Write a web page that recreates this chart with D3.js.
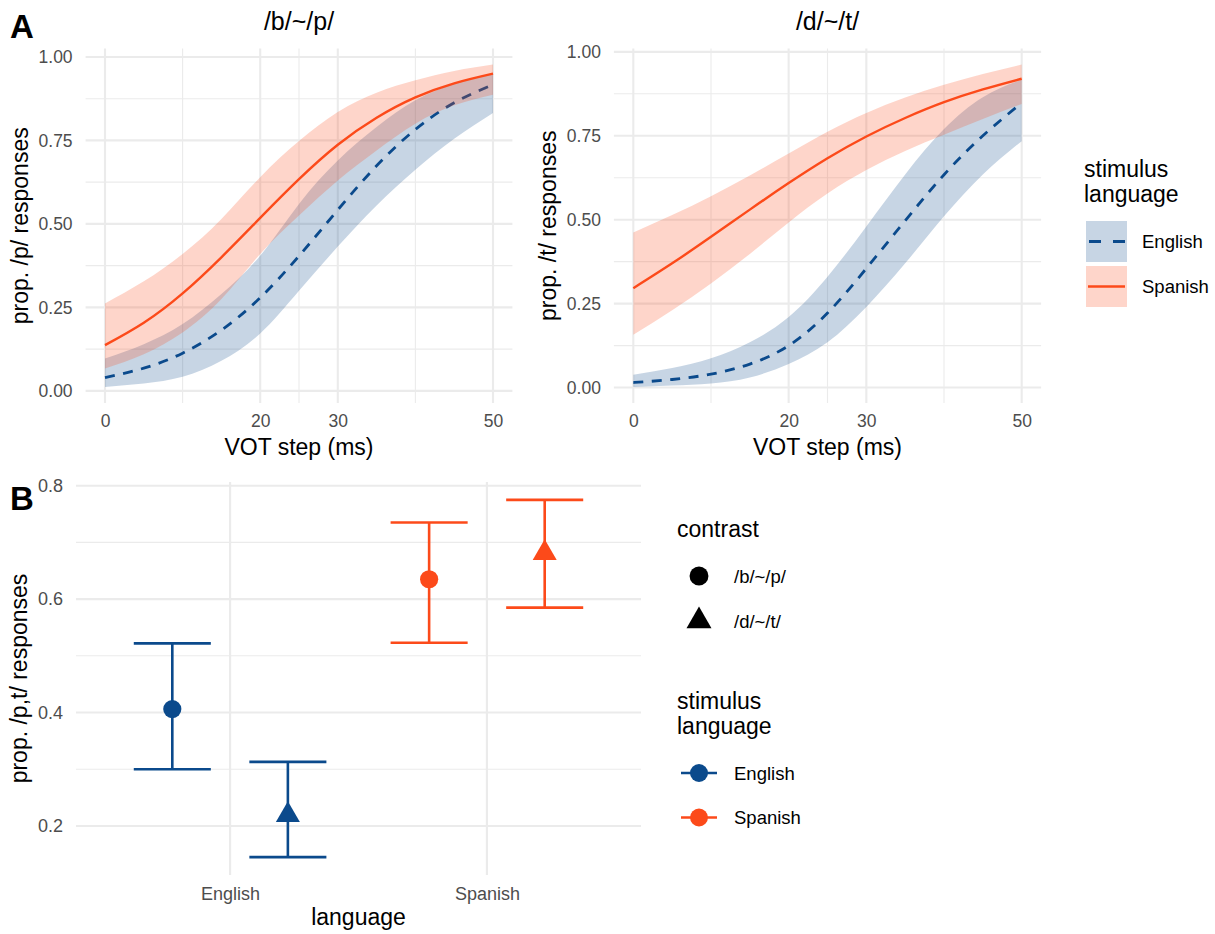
<!DOCTYPE html>
<html lang="en">
<head>
<meta charset="UTF-8">
<title>VOT categorisation by stimulus language</title>
<script src="https://d3js.org/d3.v7.min.js"></script>
<style>
  body { margin: 0; background: #fff; }
  svg text { font-family: "Liberation Sans", Arial, Helvetica, sans-serif; }
</style>
</head>
<body>
<div id="chart"></div>
<script>
// ---- data ----
const votSteps = [0, 5, 10, 15, 20, 25, 30, 35, 40, 45, 50];
const xBreaks = [0, 20, 30, 50];
const yBreaks = [0, 0.25, 0.5, 0.75, 1];

// /b/~/p/
const bpEnglishFit = [0.040, 0.068, 0.113, 0.182, 0.279, 0.404, 0.542, 0.674, 0.783, 0.863, 0.917];
const bpEnglishLo  = [0.012, 0.022, 0.042, 0.090, 0.172, 0.300, 0.432, 0.555, 0.662, 0.755, 0.832];
const bpEnglishHi  = [0.097, 0.140, 0.200, 0.290, 0.405, 0.560, 0.690, 0.790, 0.870, 0.920, 0.950];
const bpSpanishFit = [0.137, 0.204, 0.292, 0.400, 0.518, 0.634, 0.737, 0.818, 0.879, 0.921, 0.950];
const bpSpanishLo  = [0.067, 0.110, 0.175, 0.275, 0.410, 0.525, 0.630, 0.720, 0.800, 0.855, 0.887];
const bpSpanishHi  = [0.262, 0.328, 0.410, 0.515, 0.640, 0.748, 0.835, 0.893, 0.930, 0.958, 0.977];

// /d/~/t/
const dtEnglishFit = [0.015, 0.024, 0.040, 0.070, 0.125, 0.222, 0.355, 0.497, 0.634, 0.750, 0.848];
const dtEnglishLo  = [0.002, 0.006, 0.012, 0.030, 0.070, 0.135, 0.240, 0.370, 0.510, 0.635, 0.734];
const dtEnglishHi  = [0.038, 0.058, 0.087, 0.135, 0.210, 0.330, 0.480, 0.635, 0.770, 0.865, 0.917];
const dtSpanishFit = [0.296, 0.370, 0.449, 0.530, 0.609, 0.683, 0.748, 0.803, 0.850, 0.888, 0.920];
const dtSpanishLo  = [0.157, 0.230, 0.310, 0.398, 0.492, 0.578, 0.648, 0.705, 0.753, 0.800, 0.845];
const dtSpanishHi  = [0.462, 0.514, 0.570, 0.632, 0.697, 0.762, 0.818, 0.864, 0.902, 0.934, 0.962];

// panel B: estimates by stimulus language x contrast
const languages = ["English", "Spanish"];
const contrasts = ["/b/~/p/", "/d/~/t/"];
const estMean  = { English: [0.406, 0.219], Spanish: [0.635, 0.681] };
const estLower = { English: [0.300, 0.145], Spanish: [0.523, 0.585] };
const estUpper = { English: [0.522, 0.313], Spanish: [0.735, 0.775] };
const bBreaks = [0.2, 0.4, 0.6, 0.8];

// ---- setup ----
const W = 1215, H = 934;
const svg = d3.select("#chart").append("svg").attr("width", W).attr("height", H);

const color = d3.scaleOrdinal().domain(languages).range(["#0b4a8c", "#fc4a1a"]);
const ribbonAlpha = 0.23;
const gridCol = "#ebebeb";
const tickCol = "#4d4d4d";

// ggplot-like 5% expansion
function expand(vals) {
  const [lo, hi] = d3.extent(vals);
  const pad = (hi - lo) * 0.05;
  return [lo - pad, hi + pad];
}
function minorOf(breaks) {
  const m = [];
  for (let i = 1; i < breaks.length; i++) m.push((breaks[i - 1] + breaks[i]) / 2);
  return m;
}

function curvePanel(p) {
  const g = svg.append("g");
  const top = 48.5, bottom = 403;
  const x = d3.scaleLinear().domain(expand(votSteps)).range([p.left, p.right]);
  const y = d3.scaleLinear()
    .domain(expand([...p.enLo, ...p.enHi, ...p.esLo, ...p.esHi]))
    .range([bottom, top]);

  // grid
  g.selectAll(".ymin").data(minorOf(yBreaks)).join("line")
    .attr("x1", p.left).attr("x2", p.right).attr("y1", d => y(d)).attr("y2", d => y(d))
    .attr("stroke", gridCol).attr("stroke-width", 1.1);
  g.selectAll(".xmin").data(minorOf(xBreaks)).join("line")
    .attr("x1", d => x(d)).attr("x2", d => x(d)).attr("y1", top).attr("y2", bottom)
    .attr("stroke", gridCol).attr("stroke-width", 1.1);
  g.selectAll(".ymaj").data(yBreaks).join("line")
    .attr("x1", p.left).attr("x2", p.right).attr("y1", d => y(d)).attr("y2", d => y(d))
    .attr("stroke", gridCol).attr("stroke-width", 2.1);
  g.selectAll(".xmaj").data(xBreaks).join("line")
    .attr("x1", d => x(d)).attr("x2", d => x(d)).attr("y1", top).attr("y2", bottom)
    .attr("stroke", gridCol).attr("stroke-width", 2.1);

  const series = [
    { lang: "English", fit: p.enFit, lo: p.enLo, hi: p.enHi, dash: "10,8.5", w: 2.8 },
    { lang: "Spanish", fit: p.esFit, lo: p.esLo, hi: p.esHi, dash: null, w: 2.4 }
  ];
  const area = d3.area().curve(d3.curveNatural)
    .x((d, i) => x(votSteps[i]));
  const line = d3.line().curve(d3.curveNatural)
    .x((d, i) => x(votSteps[i])).y(d => y(d));

  series.forEach(s => {
    g.append("path")
      .attr("d", area.y0((d, i) => y(s.lo[i])).y1((d, i) => y(s.hi[i]))(s.fit))
      .attr("fill", color(s.lang)).attr("fill-opacity", ribbonAlpha);
    g.append("path")
      .attr("d", line(s.fit))
      .attr("fill", "none").attr("stroke", color(s.lang))
      .attr("stroke-width", s.w)
      .attr("stroke-dasharray", s.dash);
  });

  // axes
  const ax = g.append("g").attr("transform", `translate(0,${bottom})`)
    .call(d3.axisBottom(x).tickValues(xBreaks).tickSize(0).tickPadding(12));
  const ay = g.append("g").attr("transform", `translate(${p.left},0)`)
    .call(d3.axisLeft(y).tickValues(yBreaks).tickFormat(d3.format(".2f")).tickSize(0).tickPadding(13));
  [ax, ay].forEach(a => {
    a.select(".domain").remove();
    a.selectAll("text").attr("font-size", 17.5).attr("fill", tickCol)
      .style("font-family", '"Liberation Sans", Arial, sans-serif');
  });

  g.append("text").attr("x", (p.left + p.right) / 2).attr("y", 30)
    .attr("text-anchor", "middle").attr("font-size", 25).text(p.title);
  g.append("text").attr("x", (p.left + p.right) / 2).attr("y", 455)
    .attr("text-anchor", "middle").attr("font-size", 23).text("VOT step (ms)");
  g.append("text")
    .attr("transform", `translate(${p.ytx},${(top + bottom) / 2}) rotate(-90)`)
    .attr("text-anchor", "middle").attr("font-size", 23).text(p.ytitle);
}

curvePanel({
  left: 85.6, right: 512.4, ytx: 28, title: "/b/~/p/", ytitle: "prop. /p/ responses",
  enFit: bpEnglishFit, enLo: bpEnglishLo, enHi: bpEnglishHi,
  esFit: bpSpanishFit, esLo: bpSpanishLo, esHi: bpSpanishHi
});
curvePanel({
  left: 613.9, right: 1041.1, ytx: 556, title: "/d/~/t/", ytitle: "prop. /t/ responses",
  enFit: dtEnglishFit, enLo: dtEnglishLo, enHi: dtEnglishHi,
  esFit: dtSpanishFit, esLo: dtSpanishLo, esHi: dtSpanishHi
});

// legend for panel A
const legA = svg.append("g").attr("transform", "translate(1084,0)");
legA.append("text").attr("x", 0).attr("y", 177).attr("font-size", 23).text("stimulus");
legA.append("text").attr("x", 0).attr("y", 201.5).attr("font-size", 23).text("language");
languages.forEach((lang, i) => {
  const ky = 221 + i * 45;
  legA.append("rect").attr("x", 2).attr("y", ky).attr("width", 41).attr("height", 41)
    .attr("fill", color(lang)).attr("fill-opacity", ribbonAlpha);
  legA.append("line").attr("x1", 4).attr("x2", 41).attr("y1", ky + 20.5).attr("y2", ky + 20.5)
    .attr("stroke", color(lang)).attr("stroke-width", lang === "English" ? 2.8 : 2.4)
    .attr("stroke-dasharray", lang === "English" ? "12,12" : null)
    .attr("stroke-dashoffset", lang === "English" ? -1 : 0);
  legA.append("text").attr("x", 58).attr("y", ky + 27).attr("font-size", 18.5).text(lang);
});

// ---- panel B ----
const bTop = 482, bBottom = 875, bLeft = 76, bRight = 641;
const gb = svg.append("g");
const xb = d3.scalePoint().domain(languages).range([bLeft, bRight]).padding(0.6);
const yb = d3.scaleLinear()
  .domain(expand([...estLower.English, ...estLower.Spanish, ...estUpper.English, ...estUpper.Spanish]))
  .range([bBottom, bTop]);
const dodge = d3.scalePoint().domain(contrasts).range([-0.225, 0.225]);
const shape = d3.scaleOrdinal().domain(contrasts).range([d3.symbolCircle, d3.symbolTriangle]);
const shapeSize = d3.scaleOrdinal().domain(contrasts).range([260, 250]);

gb.selectAll(".ymin").data(minorOf(bBreaks)).join("line")
  .attr("x1", bLeft).attr("x2", bRight).attr("y1", d => yb(d)).attr("y2", d => yb(d))
  .attr("stroke", gridCol).attr("stroke-width", 1.1);
gb.selectAll(".ymaj").data(bBreaks).join("line")
  .attr("x1", bLeft).attr("x2", bRight).attr("y1", d => yb(d)).attr("y2", d => yb(d))
  .attr("stroke", gridCol).attr("stroke-width", 2.1);
gb.selectAll(".xmaj").data(languages).join("line")
  .attr("x1", d => xb(d)).attr("x2", d => xb(d)).attr("y1", bTop).attr("y2", bBottom)
  .attr("stroke", gridCol).attr("stroke-width", 2.1);

const est = [];
languages.forEach(lang => contrasts.forEach((c, j) => {
  est.push({ lang, c, m: estMean[lang][j], lo: estLower[lang][j], hi: estUpper[lang][j] });
}));
const step = xb.step();
const capHalf = 0.15 * step;
est.forEach(d => {
  const cx = xb(d.lang) + dodge(d.c) * step;
  const col = color(d.lang);
  gb.append("line").attr("x1", cx).attr("x2", cx).attr("y1", yb(d.lo)).attr("y2", yb(d.hi))
    .attr("stroke", col).attr("stroke-width", 2.6);
  [d.lo, d.hi].forEach(v => {
    gb.append("line").attr("x1", cx - capHalf).attr("x2", cx + capHalf)
      .attr("y1", yb(v)).attr("y2", yb(v)).attr("stroke", col).attr("stroke-width", 2.6);
  });
  gb.append("path").attr("transform", `translate(${cx},${yb(d.m)})`)
    .attr("d", d3.symbol().type(shape(d.c)).size(shapeSize(d.c))())
    .attr("fill", col);
});

const bx = gb.append("g").attr("transform", `translate(0,${bBottom})`)
  .call(d3.axisBottom(xb).tickSize(0).tickPadding(12));
const by = gb.append("g").attr("transform", `translate(${bLeft},0)`)
  .call(d3.axisLeft(yb).tickValues(bBreaks).tickFormat(d3.format(".1f")).tickSize(0).tickPadding(13));
[bx, by].forEach(a => {
  a.select(".domain").remove();
  a.selectAll("text").attr("font-size", 18).attr("fill", tickCol)
    .style("font-family", '"Liberation Sans", Arial, sans-serif');
});
gb.append("text").attr("x", (bLeft + bRight) / 2).attr("y", 925)
  .attr("text-anchor", "middle").attr("font-size", 23).text("language");
gb.append("text")
  .attr("transform", `translate(27,${(bTop + bBottom) / 2}) rotate(-90)`)
  .attr("text-anchor", "middle").attr("font-size", 23).text("prop. /p,t/ responses");

// legend for panel B
const legB = svg.append("g").attr("transform", "translate(677,0)");
legB.append("text").attr("x", 0).attr("y", 537).attr("font-size", 23).text("contrast");
contrasts.forEach((c, i) => {
  const ky = [576, 621][i];
  legB.append("path").attr("transform", `translate(22,${ky})`)
    .attr("d", d3.symbol().type(shape(c)).size(shapeSize(c) + 20)())
    .attr("fill", "#000");
  legB.append("text").attr("x", 57).attr("y", ky + 6.5).attr("font-size", 18.5).text(c);
});
legB.append("text").attr("x", 0).attr("y", 709).attr("font-size", 23).text("stimulus");
legB.append("text").attr("x", 0).attr("y", 733.5).attr("font-size", 23).text("language");
languages.forEach((lang, i) => {
  const ky = 773 + i * 44.5;
  legB.append("line").attr("x1", 4).attr("x2", 40).attr("y1", ky).attr("y2", ky)
    .attr("stroke", color(lang)).attr("stroke-width", 2.6);
  legB.append("circle").attr("cx", 22).attr("cy", ky).attr("r", 9).attr("fill", color(lang));
  legB.append("text").attr("x", 57).attr("y", ky + 6.5).attr("font-size", 18.5).text(lang);
});

// panel tags
svg.append("text").attr("x", 10).attr("y", 38).attr("font-size", 33).attr("font-weight", "bold").text("A");
svg.append("text").attr("x", 10).attr("y", 510).attr("font-size", 33).attr("font-weight", "bold").text("B");
</script>
</body>
</html>
